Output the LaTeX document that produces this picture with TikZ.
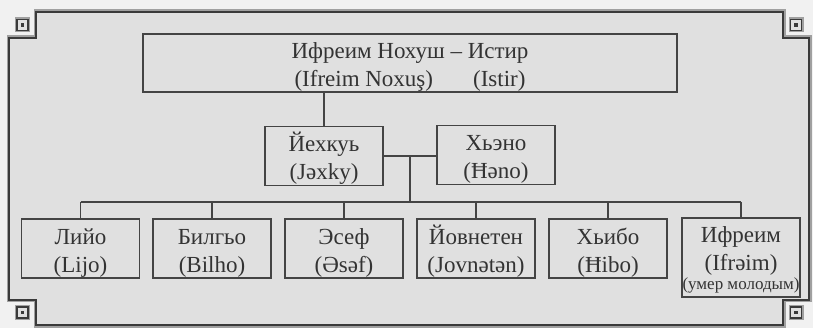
\documentclass[tikz,border=0pt]{standalone}
\usepackage{fontspec}
\setmainfont{Liberation Serif}
\definecolor{bgin}{HTML}{E0E0E0}
\definecolor{bgout}{HTML}{F1F1F1}
\definecolor{linec}{HTML}{444444}
\definecolor{txtc}{HTML}{333333}
\definecolor{framegrey}{HTML}{A0A0A0}
\definecolor{framedark}{HTML}{3A3A3A}
\newcommand\myTS{\rule{0pt}{24pt}}
\newcommand\myTSb{\rule{0pt}{22pt}}
\newcommand\myBS{\rule[-24pt]{0pt}{24pt}}
\begin{document}
\begin{tikzpicture}[x=1pt,y=-1pt,
  person/.style={draw=linec, line width=1.3pt, minimum width=118pt, minimum height=59pt,
    inner sep=0pt, align=center, text=txtc, font=\fontsize{23}{28}\selectfont},
  link/.style={draw=linec, line width=1.3pt},
  framedraw/.style={draw=framedark, line width=1.3pt, preaction={draw=framegrey, line width=5pt}},
  ornament/.style={draw=framedark, line width=1.2pt, preaction={draw=framegrey, line width=4pt}, fill=bgin}
]
\useasboundingbox (0,0) rectangle (813,328);
\fill[bgout] (0,0) rectangle (813,328);
% frame
\path[framedraw, fill=bgin] (36,12) -- (783,12) -- (783,38) -- (809,38) -- (809,300) -- (783,300)
  -- (783,325) -- (36,325) -- (36,300) -- (9,300) -- (9,38) -- (36,38) -- cycle;
% corner ornaments
\foreach \cx/\cy in {22.5/25, 796/25, 22.5/312.5, 796/312.5} {
  \path[ornament] (\cx-5.5,\cy-5.5) rectangle (\cx+5.5,\cy+5.5);
  \fill[framedark] (\cx-1.8,\cy-1.8) rectangle (\cx+1.8,\cy+1.8);
}
% persons
\node[person, minimum width=534pt, minimum height=58pt] (top) at (410,63)
  {\myTS Ифреим Нохуш – Истир\\(Ifreim Noxuş)\hspace{40pt}(Istir)};
\node[person] (jex) at (324,156) {\myTS Йехкуь\\(Jəxky)};
\node[person] (han) at (496,155) {\myTS Хьэно\\(Ħəno)};
\node[person] (lij) at (80.5,248.5) {\myTS Лийо\\(Lijo)};
\node[person] (bil) at (212,248.5) {\myTS Билгьо\\(Bilho)};
\node[person] (ase) at (344,248.5) {\myTS Эсеф\\(Əsəf)};
\node[person] (jov) at (476,248.5) {\myTS Йовнетен\\(Jovnətən)};
\node[person] (hib) at (608,248.5) {\myTS Хьибо\\(Ħibo)};
\node[person, minimum height=79pt] (ifr) at (741,257.5) {\myTSb Ифреим\\(Ifrəim)\myBS};
\node[text=txtc, font=\fontsize{17}{20}\selectfont, anchor=base, inner sep=0pt] (ifrnote) at (741,290) {(умер молодым)};
% connectors
\draw[link] (top.south -| jex.north) -- (jex.north);
\draw[link] (jex.east) -- (jex.east -| han.west);
\coordinate (mid) at (410,156);
\coordinate (bus) at (410,202);
\draw[link] (mid) -- (bus);
\draw[link] (lij.north |- bus) -- (ifr.north |- bus);
\foreach \n in {lij,bil,ase,jov,hib,ifr} \draw[link] (\n.north |- bus) -- (\n.north);
\end{tikzpicture}
\end{document}
